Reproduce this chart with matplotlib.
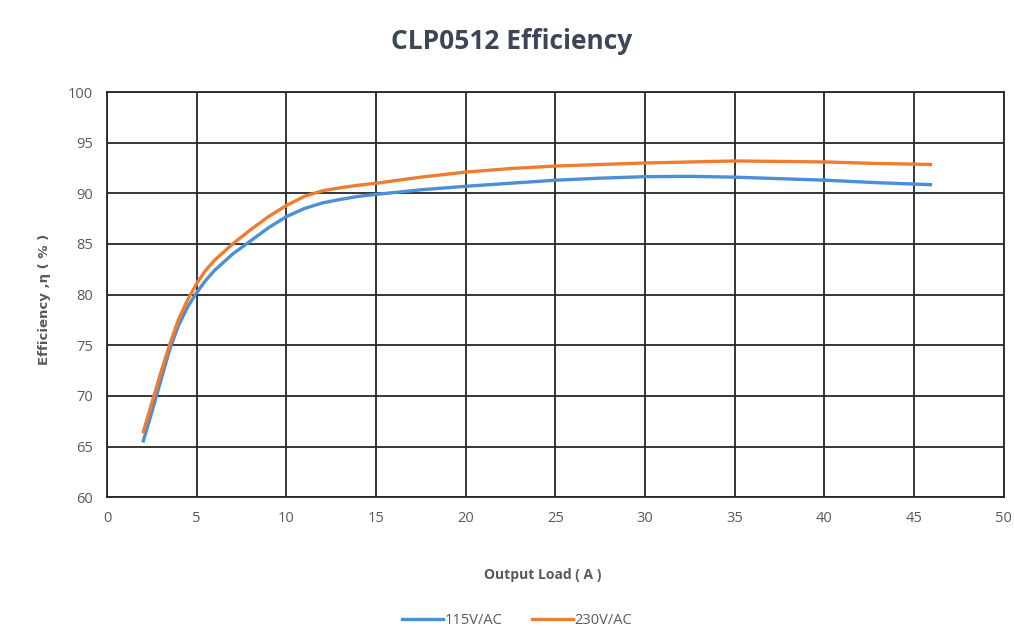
import matplotlib.pyplot as plt
from matplotlib.lines import Line2D

# output load (A) and efficiency (%)
load = [2, 2.5, 3, 3.5, 4, 4.5, 5, 5.5, 6, 7, 8, 9, 10, 11, 12, 13, 14, 15,
        17.5, 20, 22.5, 25, 27.5, 30, 32.5, 35, 37.5, 40, 43, 46]
eff_115 = [65.4, 68.4, 71.5, 74.6, 77.0, 78.8, 80.2, 81.4, 82.4, 84.0, 85.3, 86.6,
           87.7, 88.5, 89.05, 89.4, 89.7, 89.9, 90.35, 90.7, 91.0, 91.3, 91.5,
           91.65, 91.68, 91.6, 91.45, 91.3, 91.05, 90.85]
eff_230 = [66.3, 69.3, 72.3, 75.1, 77.6, 79.5, 81.1, 82.4, 83.4, 85.0, 86.4, 87.7,
           88.8, 89.7, 90.25, 90.55, 90.8, 91.0, 91.6, 92.1, 92.45, 92.7, 92.85,
           93.0, 93.1, 93.2, 93.15, 93.1, 92.95, 92.85]

x_ticks = list(range(0, 51, 5))
y_ticks = list(range(60, 101, 5))

blue = "#4a8fd8"
orange = "#ed7d31"
grid_c = "#262626"
label_c = "#595959"

fig = plt.figure(figsize=(10.14, 6.44), dpi=100)
ax = fig.add_axes([0.1055, 0.228, 0.8845, 0.629])

ax.plot(load, eff_115, color=blue, lw=2.4, solid_capstyle="butt",
        solid_joinstyle="round", zorder=3)
ax.plot(load, eff_230, color=orange, lw=2.4, solid_capstyle="butt",
        solid_joinstyle="round", zorder=4)

ax.set_xlim(0, 50)
ax.set_ylim(60, 100)
ax.set_xticks(x_ticks)
ax.set_yticks(y_ticks)
ax.grid(True, color=grid_c, lw=1.3)
ax.set_axisbelow(True)
for s in ax.spines.values():
    s.set_color(grid_c)
    s.set_linewidth(1.3)
ax.tick_params(length=0, pad=10, labelsize=10.5, labelcolor=label_c)
for t in ax.get_xticklabels() + ax.get_yticklabels():
    t.set_family("Open Sans")

fig.text(0.505, 0.935, "CLP0512 Efficiency", ha="center", va="center",
         fontsize=19, fontweight="bold", color="#3d4657", family="Open Sans")
fig.text(0.535, 0.107, "Output Load ( A )", ha="center", va="center",
         fontsize=10, fontweight="bold", color=label_c, family="Open Sans")
fig.text(0.044, 0.535, "Efficiency ,η ( % )", ha="center", va="center",
         rotation=90, fontsize=9.5, fontweight="bold", color=label_c, family="DejaVu Sans")

handles = [Line2D([], [], color=blue, lw=2.4), Line2D([], [], color=orange, lw=2.4)]
leg = fig.legend(handles, ["115V/AC", "230V/AC"], loc="center", bbox_to_anchor=(0.51, 0.037),
                 ncol=2, frameon=False, handlelength=2.8, handletextpad=0.1, columnspacing=2.0,
                 prop={"family": "Open Sans", "size": 10.5})
for t in leg.get_texts():
    t.set_color(label_c)

fig.savefig("out.png", dpi=100)
